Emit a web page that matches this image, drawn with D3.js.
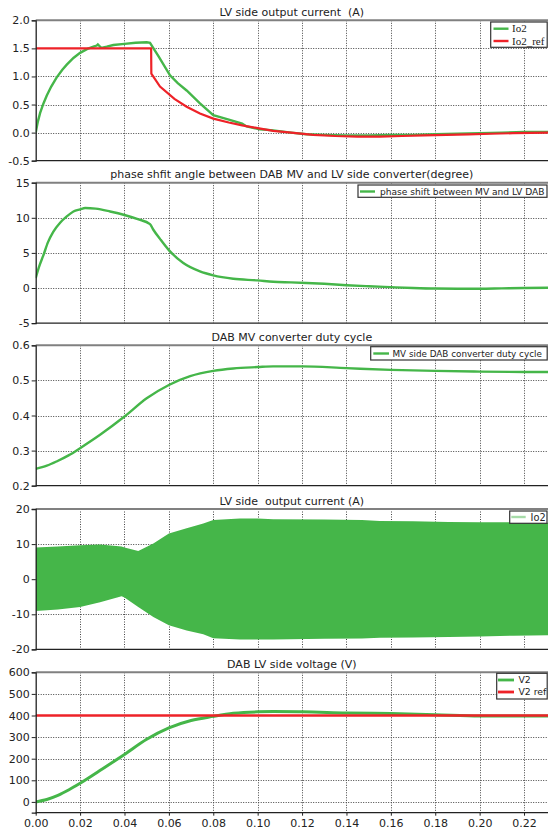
<!DOCTYPE html>
<html><head><meta charset="utf-8">
<script src="https://cdn.jsdelivr.net/npm/d3@7"></script>
<style>
html,body{margin:0;padding:0;background:#fff;}
svg{display:block;font-family:"DejaVu Sans",sans-serif;}
</style></head>
<body><svg id="c" width="548" height="835"></svg>
<script>
// ---------- data ----------
const xTicks = [0,0.02,0.04,0.06,0.08,0.10,0.12,0.14,0.16,0.18,0.20,0.22];
const titles = [
  "LV side output current  (A)",
  "phase shfit angle between DAB MV and LV side converter(degree)",
  "DAB MV converter duty cycle",
  "LV side  output current (A)",
  "DAB LV side voltage (V)"
];
const yTicks1 = [-0.5,0,0.5,1.0,1.5,2.0];
const yTicks2 = [-5,0,5,10,15];
const yTicks3 = [0.2,0.3,0.4,0.5,0.6];
const yTicks4 = [-20,-10,0,10,20];
const yTicks5 = [0,100,200,300,400,500,600];

// panel 1: Io2 and Io2_ref
const io2T = [0,0.001,0.002,0.0035,0.005,0.007,0.0094,0.012,0.014,0.017,0.02,0.0233,0.026,0.0275,0.028,0.0295,0.032,0.035,0.04,0.045,0.05,0.0515,0.0555,0.0605,0.064,0.068,0.074,0.08,0.087,0.093,0.095,0.101,0.107,0.115,0.122,0.13,0.14,0.15,0.16,0.17,0.18,0.19,0.2,0.21,0.22,0.231];
const io2V = [0,0.2,0.35,0.52,0.66,0.82,0.98,1.12,1.21,1.33,1.42,1.49,1.53,1.55,1.57,1.51,1.53,1.56,1.58,1.6,1.61,1.6,1.35,1.02,0.88,0.75,0.52,0.31,0.23,0.16,0.11,0.06,0.04,0.0,-0.03,-0.04,-0.05,-0.05,-0.04,-0.04,-0.03,-0.02,-0.01,0.0,0.01,0.01];
const io2RefT = [0,0.052,0.0521,0.056,0.0625,0.068,0.074,0.08,0.087,0.093,0.1,0.107,0.115,0.125,0.135,0.145,0.155,0.165,0.175,0.185,0.195,0.205,0.215,0.231];
const io2RefV = [1.5,1.5,1.05,0.82,0.6,0.46,0.34,0.25,0.18,0.13,0.08,0.03,0.0,-0.04,-0.06,-0.07,-0.07,-0.06,-0.05,-0.04,-0.03,-0.02,-0.01,0.0];

// panel 2: phase shift (degree)
const phT = [0,0.0015,0.0034,0.0055,0.0079,0.011,0.014,0.017,0.02,0.0223,0.027,0.0335,0.04,0.046,0.0515,0.053,0.056,0.06,0.0665,0.074,0.08,0.089,0.1,0.107,0.115,0.122,0.13,0.14,0.15,0.16,0.17,0.18,0.19,0.2,0.21,0.22,0.231];
const phV = [1.4,3.0,4.6,6.5,8.0,9.3,10.2,10.9,11.2,11.4,11.3,10.9,10.4,9.8,9.1,8.3,7.0,5.4,3.55,2.36,1.8,1.32,1.08,0.88,0.8,0.72,0.6,0.4,0.25,0.12,0.0,-0.08,-0.1,-0.1,-0.05,0.0,0.03];

// panel 3: MV duty cycle
const dutyT = [0,0.005,0.0094,0.015,0.02,0.029,0.04,0.05,0.06,0.0696,0.08,0.089,0.1,0.107,0.12,0.14,0.16,0.18,0.2,0.22,0.231];
const dutyV = [0.248,0.257,0.269,0.287,0.307,0.345,0.397,0.449,0.487,0.512,0.527,0.534,0.538,0.540,0.540,0.535,0.530,0.527,0.525,0.524,0.524];

// panel 4: LV output current envelope (A)
const envT = [0,0.01,0.02,0.029,0.0387,0.04,0.0462,0.053,0.06,0.068,0.0755,0.08,0.092,0.1,0.107,0.13,0.147,0.155,0.17,0.186,0.2,0.215,0.231];
const envUp = [9.05,9.3,9.7,9.9,9.3,9.05,8.0,10.2,13.0,14.5,15.9,16.9,17.3,17.3,17.1,17.0,16.9,16.6,16.5,16.3,16.2,16.2,16.1];
const envLo = [-9.05,-8.6,-7.9,-6.6,-4.86,-5.2,-7.9,-10.8,-13.1,-14.6,-15.7,-16.8,-17.2,-17.2,-17.2,-17.0,-16.9,-16.7,-16.6,-16.5,-16.3,-16.1,-16.0];

// panel 5: V2 and V2 ref
const v2T = [0,0.005,0.01,0.015,0.02,0.03,0.04,0.05,0.06,0.07,0.08,0.089,0.1,0.107,0.12,0.14,0.16,0.18,0.2,0.22,0.231];
const v2V = [0,11,30,56,86,152,220,290,343,377,396,410,417,418,417,412,409,404,398,398,398];
const v2RefT = [0,0.231];
const v2RefV = [400,400];

// ---------- layout ----------
const GREEN = "#45b649", RED = "#ee2228";
const svg = d3.select("#c");
const left = 35.7, right = 548, xMax = 0.2308;
const x = d3.scaleLinear().domain([0, xMax]).range([left, right]);
const tops = [20.3, 182.7, 345.3, 509, 672.3];
const ph = 140.4;
const domains = [[-0.5,2],[-5,15],[0.2,0.6],[-20,20],[-50,600]];
const tickSets = [yTicks1,yTicks2,yTicks3,yTicks4,yTicks5];
const fmts = [d3.format(".1f"), d3.format("d"), d3.format(".1f"), d3.format("d"), d3.format("d")];

const ys = tops.map((t,i)=>d3.scaleLinear().domain(domains[i]).range([t+ph, t]));

function zip(T,V){return T.map((t,i)=>[t,V[i]]);}

tops.forEach((top,i)=>{
  const y = ys[i];
  const g = svg.append("g");
  const cid = "clip"+i;
  svg.append("clipPath").attr("id",cid).append("rect")
    .attr("x",left).attr("y",top).attr("width",right-left).attr("height",ph);
  // grid
  const grid = g.append("g").attr("stroke","#444").attr("stroke-width",1).attr("stroke-dasharray","1,1.5");
  grid.selectAll("line.v").data(xTicks.filter(d=>d>0)).join("line")
    .attr("x1",d=>Math.round(x(d))+0.5).attr("x2",d=>Math.round(x(d))+0.5)
    .attr("y1",top).attr("y2",top+ph);
  grid.selectAll("line.h").data(tickSets[i].filter(d=>d>domains[i][0] && d<domains[i][1])).join("line")
    .attr("x1",left).attr("x2",right)
    .attr("y1",d=>Math.round(y(d))+0.5).attr("y2",d=>Math.round(y(d))+0.5);
  // title
  svg.append("text").attr("x",(left+right)/2).attr("y",top-4.5)
    .attr("text-anchor","middle").attr("font-size",11).attr("fill","#222")
    .attr("xml:space","preserve").style("white-space","pre").text(titles[i]);
  const dg = g.append("g").attr("clip-path",`url(#${cid})`);
  const line = d3.line().x(d=>x(d[0])).y(d=>y(d[1]));
  const smooth = d3.line().curve(d3.curveMonotoneX).x(d=>x(d[0])).y(d=>y(d[1]));
  if(i===0){
    dg.append("path").datum(zip(io2T,io2V)).attr("d",line).attr("fill","none").attr("stroke",GREEN).attr("stroke-width",2.4);
    dg.append("path").datum(zip(io2RefT,io2RefV)).attr("d",line).attr("fill","none").attr("stroke",RED).attr("stroke-width",2.2);
  } else if(i===1){
    dg.append("path").datum(zip(phT,phV)).attr("d",smooth).attr("fill","none").attr("stroke",GREEN).attr("stroke-width",2.4);
  } else if(i===2){
    dg.append("path").datum(zip(dutyT,dutyV)).attr("d",smooth).attr("fill","none").attr("stroke",GREEN).attr("stroke-width",2.4);
  } else if(i===3){
    const area = d3.area().x(d=>x(d.t)).y0(d=>y(d.lo)).y1(d=>y(d.up));
    dg.append("path").datum(envT.map((t,k)=>({t,up:envUp[k],lo:envLo[k]}))).attr("d",area).attr("fill",GREEN);
  } else {
    dg.append("path").datum(zip(v2T,v2V)).attr("d",smooth).attr("fill","none").attr("stroke",GREEN).attr("stroke-width",3);
    dg.append("path").datum(zip(v2RefT,v2RefV)).attr("d",line).attr("fill","none").attr("stroke",RED).attr("stroke-width",2.4);
  }
  // top border (gray)
  svg.append("line").attr("x1",left).attr("x2",right).attr("y1",top).attr("y2",top)
    .attr("stroke","#808080").attr("stroke-width",2);
  // bottom axis line
  svg.append("line").attr("x1",left).attr("x2",right).attr("y1",top+ph).attr("y2",top+ph)
    .attr("stroke","#222").attr("stroke-width",1.3);
  // left axis
  const ax = svg.append("g").attr("transform",`translate(${left},0)`)
    .call(d3.axisLeft(y).tickValues(tickSets[i]).tickFormat(d=>fmts[i](d).replace("−","-")).tickSize(4).tickPadding(2));
  ax.select(".domain").attr("stroke","#222").attr("stroke-width",1.3);
  ax.selectAll(".tick line").attr("stroke","#222");
  ax.selectAll("text").attr("font-size",11).attr("fill","#222").attr("font-family","DejaVu Sans");
  if(i===4){
    const bx = svg.append("g").attr("transform",`translate(0,${top+ph})`)
      .call(d3.axisBottom(x).tickValues(xTicks).tickFormat(d3.format(".2f")).tickSize(3).tickPadding(4));
    bx.select(".domain").remove();
    bx.selectAll(".tick line").attr("stroke","#222");
    bx.selectAll("text").attr("font-size",11).attr("fill","#222").attr("font-family","DejaVu Sans");
  }
});

// ---------- legends ----------
function legend(bx, by, bw, bh, items, opts){
  const g = svg.append("g");
  g.append("rect").attr("x",bx).attr("y",by).attr("width",bw).attr("height",bh)
    .attr("fill","#fff").attr("stroke","#333").attr("stroke-width",1.2);
  items.forEach(it=>{
    g.append("line").attr("x1",it.sx1).attr("x2",it.sx2).attr("y1",it.y).attr("y2",it.y)
      .attr("stroke",it.color).attr("stroke-width",it.sw||2.4);
    g.append("text").attr("x",it.tx).attr("y",it.y+opts.dy).attr("font-size",opts.fs)
      .attr("font-family",opts.ff).attr("fill","#222").text(it.label);
  });
}
legend(490.7,22,56.5,25.3,[
  {sx1:493.5,sx2:508.5,y:28.7,color:GREEN,label:"Io2",tx:512},
  {sx1:493.5,sx2:508.5,y:41,color:RED,label:"Io2_ref",tx:512}
],{fs:11,ff:"Liberation Serif",dy:3.5});
legend(358,185,189,12.3,[
  {sx1:360,sx2:375,y:191.5,color:GREEN,label:"phase shift between MV and LV DAB",tx:380}
],{fs:9.1,ff:"DejaVu Sans",dy:3.3});
legend(370.7,346.7,176.5,13.3,[
  {sx1:373.3,sx2:389,y:353.5,color:GREEN,label:"MV side DAB converter duty cycle",tx:392.5}
],{fs:8.8,ff:"DejaVu Sans",dy:3.2});
legend(509.7,511,37.3,12.3,[
  {sx1:511.3,sx2:525.7,y:517,color:"#a6dba8",label:"Io2",tx:530.5}
],{fs:9.8,ff:"DejaVu Sans",dy:3.5});
legend(496.7,673.3,50.5,25.7,[
  {sx1:498,sx2:514,y:680,color:GREEN,label:"V2",tx:518.5,sw:2.8},
  {sx1:498,sx2:514,y:692,color:RED,label:"V2 ref",tx:518.5,sw:2.8}
],{fs:9.3,ff:"DejaVu Sans",dy:3.4});
</script>
</body></html>
